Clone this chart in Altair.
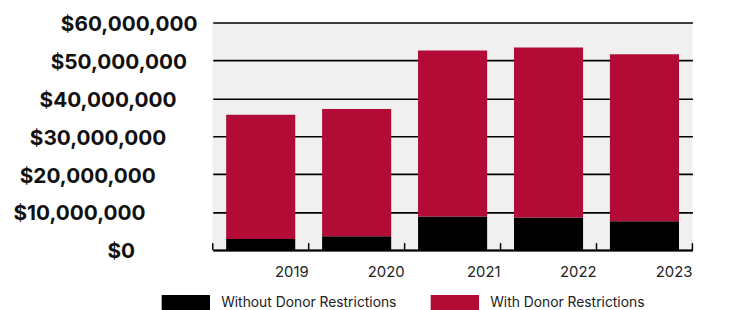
import altair as alt
import pandas as pd

years = ["2019", "2020", "2021", "2022", "2023"]
without_restr = [2.9e6, 3.6e6, 8.85e6, 8.6e6, 7.55e6]
total = [35.7e6, 37.2e6, 52.6e6, 53.4e6, 51.6e6]
with_restr = [t - w for t, w in zip(total, without_restr)]
series = ["Without Donor Restrictions", "With Donor Restrictions"]
colors = ["#000000", "#B10B36"]
y_ticks = [0, 10e6, 20e6, 30e6, 40e6, 50e6, 60e6]

rows = []
for i, y in enumerate(years):
    rows.append({"year": y, "series": series[0], "value": without_restr[i], "ord": 0})
    rows.append({"year": y, "series": series[1], "value": with_restr[i], "ord": 1})
df = pd.DataFrame(rows)
years_df = pd.DataFrame({"year": years})
first_df = pd.DataFrame({"year": years[:1]})

PAD_INNER = 0.28
xscale = alt.Scale(paddingInner=PAD_INNER, paddingOuter=PAD_INNER / 2)
yscale = alt.Scale(domain=[0, 60e6])
W, H = 485, 230
half_gap = PAD_INNER * (W / len(years)) / 2

x_axis = alt.Axis(orient="bottom", labelAngle=0, labelAlign="right",
                  labelOffset=48.5, labelPadding=15, labelFont="Inter",
                  labelFontSize=15, labelColor="#222222", ticks=False,
                  domain=True, domainColor="#000000", domainWidth=2,
                  grid=False, labelOverlap=False)

label_expr = ("'$' + format(datum.value, ',') + "
              "slice('\u2002\u2002\u2002\u2002\u2002\u2002', 0, round(6 - datum.value / 1e7))"
              " + '\u200b'")

bars = alt.Chart(df).mark_bar().encode(
    x=alt.X("year:N", scale=xscale, title=None, axis=x_axis),
    y=alt.Y("value:Q", scale=yscale, stack="zero", title=None,
            axis=alt.Axis(values=y_ticks, labelExpr=label_expr, labelFont="Inter",
                          labelFontWeight=700, labelFontSize=21, labelColor="#111111",
                          labelPadding=16, labelOffset=2, labelLimit=400,
                          ticks=False, domain=False,
                          grid=True, gridColor="#000000", gridWidth=1.6,
                          gridOpacity=1, labelOverlap=False)),
    color=alt.Color("series:N", scale=alt.Scale(domain=series, range=colors),
                    title=None,
                    legend=alt.Legend(orient="none", legendX=-60, legendY=267,
                                      direction="horizontal",
                                      symbolType="M-0.5,-0.5H2.5V0.5H-0.5Z",
                                      symbolSize=1063, symbolStrokeWidth=0,
                                      symbolOpacity=1, labelOffset=35.5,
                                      labelFont="Inter", labelFontSize=14,
                                      labelColor="#222222", columnPadding=26,
                                      labelLimit=400)),
    order=alt.Order("ord:Q"),
)

tick_end = alt.Chart(years_df).mark_rule(color="#000000", strokeWidth=1.5,
                                         xOffset=half_gap).encode(
    x=alt.X("year:N", scale=xscale, title=None, axis=x_axis, bandPosition=1),
    y=alt.value(H - 7), y2=alt.value(H),
)
tick_start = alt.Chart(first_df).mark_rule(color="#000000", strokeWidth=1.5,
                                           xOffset=-half_gap).encode(
    x=alt.X("year:N", scale=xscale, title=None, axis=x_axis, bandPosition=0),
    y=alt.value(H - 7), y2=alt.value(H),
)

chart = alt.layer(bars, tick_end, tick_start).properties(
    width=W, height=H,
    background="#ffffff",
    autosize=alt.AutoSizeParams(type="none"),
    padding={"left": 207, "top": 13, "right": 40, "bottom": 60},
).configure_view(fill="#f0f0f0", stroke=None)

chart.save("out.html", embed_options={"renderer": "svg", "actions": False})
